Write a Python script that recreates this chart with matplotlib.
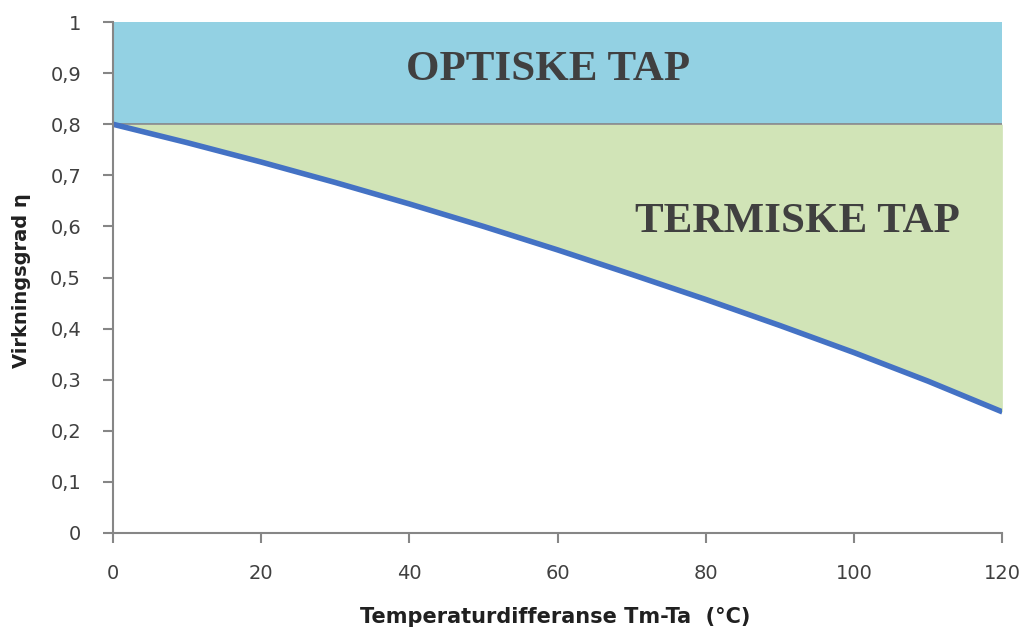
import numpy as np
import matplotlib
matplotlib.use('Agg')
import matplotlib.pyplot as plt

# temperaturdifferanse (°C) og virkningsgrad lest av figuren
temp_diff = [0, 10, 20, 30, 40, 50, 60, 70, 80, 90, 100, 110, 120]
efficiency = [0.800, 0.764, 0.726, 0.686, 0.644, 0.600, 0.554, 0.506, 0.457, 0.406, 0.353, 0.297, 0.237]
optical_limit = 0.8
x_ticks = [0, 20, 40, 60, 80, 100, 120]
y_ticks = [0, 0.1, 0.2, 0.3, 0.4, 0.5, 0.6, 0.7, 0.8, 0.9, 1.0]

axis_grey = '#868686'
text_grey = '#404040'

fig = plt.figure(figsize=(10.27, 6.3), dpi=100)
ax = fig.add_axes([0.110, 0.154, 0.866, 0.811])

xs = np.array(temp_diff)
ys = np.array(efficiency)
ax.fill_between(xs, optical_limit, 1.0, color='#93d1e3', linewidth=0)
ax.fill_between(xs, ys, optical_limit, color='#d1e4b7', linewidth=0)
ax.axhline(optical_limit, color=axis_grey, linewidth=1.2)
ax.plot(xs, ys, color='#4472c4', linewidth=4, solid_capstyle='butt')

ax.set_xlim(0, 120)
ax.set_ylim(0, 1)
ax.set_xticks(x_ticks)
ax.set_yticks(y_ticks)
ax.set_yticklabels([('%g' % v).replace('.', ',') for v in y_ticks])

for side in ['top', 'right']:
    ax.spines[side].set_visible(False)
for side in ['left', 'bottom']:
    ax.spines[side].set_color(axis_grey)
    ax.spines[side].set_linewidth(1.5)
ax.tick_params(direction='out', length=7, width=1.5, color=axis_grey,
               labelsize=14, labelcolor=text_grey)
ax.tick_params(axis='y', pad=16)
ax.tick_params(axis='x', pad=15)

fig.text(0.541, 0.021, 'Temperaturdifferanse Tm-Ta  (°C)', fontsize=15,
         fontweight='bold', color='#202020', ha='center', va='center')
fig.text(0.021, 0.555, 'Virkningsgrad η', fontsize=14, fontweight='bold',
         color='#202020', ha='center', va='center', rotation=90)

ax.text(58.7, 0.906, 'OPTISKE TAP', family='Liberation Serif', fontweight='bold',
        fontsize=31, color=text_grey, ha='center', va='center')
ax.text(92.3, 0.609, 'TERMISKE TAP', family='Liberation Serif', fontweight='bold',
        fontsize=31, color=text_grey, ha='center', va='center')

fig.savefig('out.png', dpi=100)
